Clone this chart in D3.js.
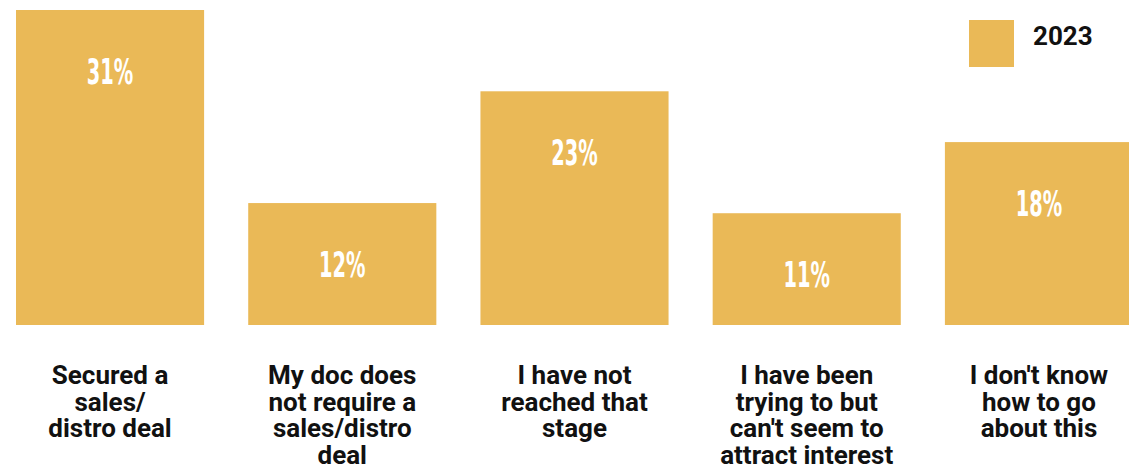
<!DOCTYPE html>
<html>
<head>
<meta charset="utf-8">
<script src="https://cdn.jsdelivr.net/npm/d3@7/dist/d3.min.js"></script>
<style>
  html, body { margin: 0; padding: 0; background: #fff; }
  svg { display: block; }
</style>
</head>
<body>
<svg id="chart" width="1129" height="467"></svg>
<script>
// Survey answers and their shares (percent)
const categories = [
  ["Secured a", "sales/", "distro deal"],
  ["My doc does", "not require a", "sales/distro", "deal"],
  ["I have not", "reached that", "stage"],
  ["I have been", "trying to but", "can't seem to", "attract interest"],
  ["I don't know", "how to go", "about this"]
];
const values2023 = [31, 12, 23, 11, 18];
const seriesName = "2023";

const barColor = "#EAB957";
const svg = d3.select("#chart");

const x = d3.scaleBand()
  .domain(d3.range(categories.length))
  .range([16, 1133])
  .paddingInner(0.19)
  .paddingOuter(0);

const baseY = 325;
const y = d3.scaleLinear().domain([0, 31]).range([baseY, 10]);

// Bars
svg.append("g").selectAll("rect")
  .data(values2023)
  .join("rect")
  .attr("x", (d, i) => x(i))
  .attr("y", d => y(d))
  .attr("width", x.bandwidth())
  .attr("height", d => baseY - y(d))
  .attr("fill", barColor);

// Value labels inside the bars (condensed white numerals)
svg.append("g").selectAll("text")
  .data(values2023)
  .join("text")
  .attr("transform", (d, i) => `translate(${x(i) + x.bandwidth() / 2},${y(d) + 74}) scale(0.6,1)`)
  .attr("text-anchor", "middle")
  .attr("font-family", "'Liberation Sans Narrow', 'DejaVu Sans Condensed', sans-serif")
  .attr("font-weight", "bold")
  .attr("font-size", 36)
  .attr("fill", "#fff")
  .text(d => d + "%");

// Category labels below the bars
const labelG = svg.append("g")
  .attr("font-family", "Roboto, sans-serif")
  .attr("font-weight", "bold")
  .attr("font-size", 26)
  .attr("fill", "#111");

categories.forEach((lines, i) => {
  const t = labelG.append("text")
    .attr("text-anchor", "middle")
    .attr("x", x(i) + x.bandwidth() / 2)
    .attr("y", 384);
  lines.forEach((line, k) => {
    t.append("tspan")
      .attr("x", x(i) + x.bandwidth() / 2)
      .attr("dy", k === 0 ? 0 : 26.5)
      .text(line);
  });
});

// Legend
const legend = svg.append("g").attr("transform", "translate(969,20)");
legend.append("rect")
  .attr("width", 45)
  .attr("height", 47)
  .attr("fill", barColor);
legend.append("text")
  .attr("x", 64)
  .attr("y", 25)
  .attr("font-family", "Roboto, sans-serif")
  .attr("font-weight", "bold")
  .attr("font-size", 26)
  .attr("fill", "#111")
  .text(seriesName);
</script>
</body>
</html>
